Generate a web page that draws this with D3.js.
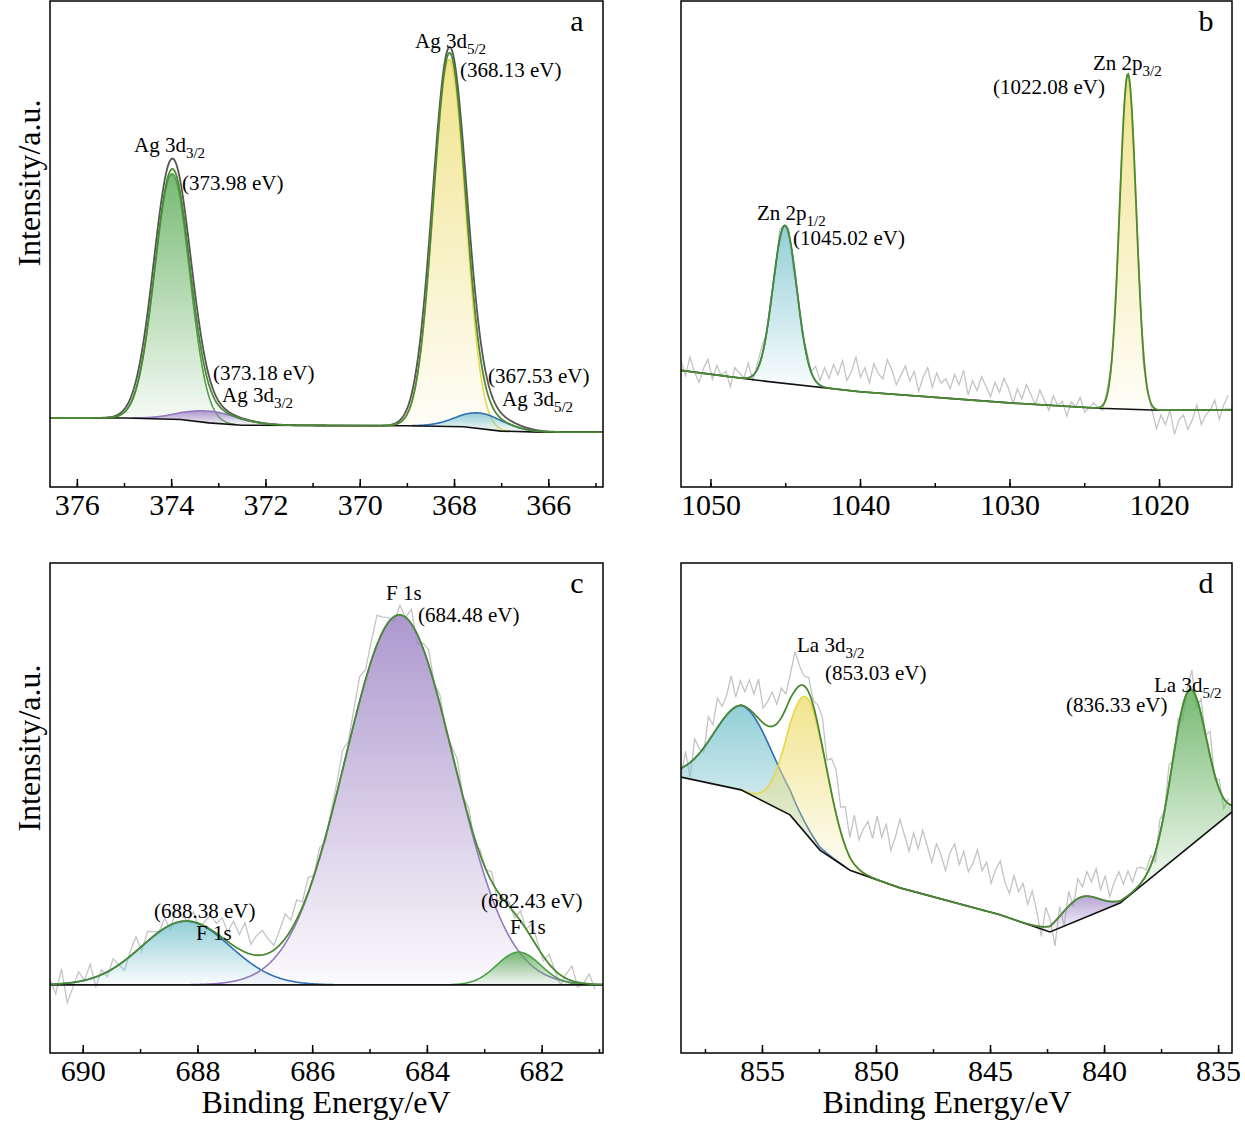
<!DOCTYPE html>
<html><head><meta charset="utf-8">
<script src="https://cdn.jsdelivr.net/npm/d3@7"></script>
<style>body{margin:0;background:#fff}text{font-family:"Liberation Serif","Times New Roman",serif}</style>
</head><body>
<svg id="chart" width="1245" height="1123"></svg>
<script>
// ---- data (intensity in arbitrary units, 0..100 per panel) ----
// panel a: Ag 3d
const aDomain = [376.57, 364.84];
const aTicks = [376, 374, 372, 370, 368, 366];
const aBaseE = [376.57, 375, 373.8, 373.2, 372.5, 369, 367.8, 367, 366.2, 364.84];
const aBaseV = [14.2, 14.2, 13.9, 13.2, 12.7, 12.6, 12.4, 11.5, 11.3, 11.3];
const aPeakE = [373.98, 373.18, 368.1, 367.45];
const aPeakH = [50.5, 2.4, 75.5, 3.2];
const aPeakW = [0.37, 0.6, 0.34, 0.5];
const aPeakC = ["green", "purple", "yellow", "blue"];
// raw spectrum in panel a (dark grey), its own peak heights and widths
const aRawH = [52.5, 2.6, 76, 4.2];
const aRawW = [0.39, 0.62, 0.36, 0.55];

// panel b: Zn 2p
const bDomain = [1051.97, 1015.12];
const bTicks = [1050, 1040, 1030, 1020];
const bBaseE = [1051.97, 1047, 1040, 1030, 1024, 1020, 1015.12];
const bBaseV = [24, 22, 19.6, 17.3, 16.2, 15.8, 15.9];
const bPeakE = [1045.02, 1022.08];
const bPeakH = [32.5, 69];
const bPeakW = [0.8, 0.55];
const bPeakC = ["blue", "yellow"];
const bRaw = [2,-1,3,0,-2,1,3,-1,2,0,1,-2,2,1,0,3,-1,1,2,0,
  1,-1,2,0,1,-2,0,-1,1,0,
  3,1,4,2,5,3,6,2,4,7,3,5,2,6,4,3,7,5,2,4,6,3,5,1,4,6,2,5,3,4,
  2,5,3,6,1,4,2,5,3,1,4,2,5,3,0,3,1,4,2,0,
  3,1,-1,2,0,1,-2,1,0,2,-1,0,1,0,-1,1,0,-2,1,-1,
  0,-2,1,-3,0,-1,-4,-1,-3,0,-5,-2,-1,-4,-2,1,-3,-1,0,2,-2,1,3];
const bRawStep = 0.3;

// panel c: F 1s
const cDomain = [690.57, 680.93];
const cTicks = [690, 688, 686, 684, 682];
const cBaseE = [690.57, 680.93];
const cBaseV = [13.9, 13.9];
const cPeakE = [688.2, 684.48, 682.4];
const cPeakH = [13, 75.5, 6.7];
const cPeakW = [0.77, 0.95, 0.38];
const cPeakC = ["blue", "purple", "green"];
const cRaw = [1,-2,3,-4,-1,2,0,3,-2,1,-1,2,0,-2,1,3,-1,2,1,0,
  2,-1,3,1,0,2,-1,1,3,2,
  4,2,5,3,6,2,4,5,3,1,
  3,5,2,4,1,3,0,2,-1,1,
  2,4,1,3,5,2,4,6,3,1,
  -1,2,0,3,-2,1,3,0,2,-1,
  1,3,0,2,-1,1,0,2,-2,0,
  1,-1,2,0,3,1,-1,2,0,-2,1,3,-1,0,2,-1];
const cRawStep = 0.1;

// panel d: La 3d
const dDomain = [858.55, 834.39];
const dTicks = [855, 850, 845, 840, 835];
const dBaseE = [858.55, 855.92, 853.77, 852.46, 851.14, 848.95, 844.56, 842.37, 839.3, 834.39];
const dBaseV = [56.3, 53.7, 48.6, 41.4, 37.3, 33.7, 28.2, 24.7, 30.6, 49.2];
const dPeakE = [855.8, 853.0, 841.05, 836.27];
const dPeakH = [17.3, 28, 4.5, 32];
const dPeakW = [1.3, 0.85, 0.8, 0.75];
const dPeakC = ["blue", "yellow", "purple", "green"];
const dRaw = [-2,3,-3,4,1,-1,5,2,6,3,4,7,2,
  5,3,6,4,8,3,5,7,4,6,3,5,8,4,2,
  3,1,4,6,2,7,9,5,8,4,10,6,9,
  11,8,13,9,12,7,10,14,11,8,12,9,13,10,7,11,9,6,10,12,8,11,7,9,12,8,10,6,9,11,7,5,9,6,8,4,7,
  3,-2,4,1,-5,2,-3,3,-1,4,
  2,5,3,6,2,5,1,4,6,3,5,2,4,3,1,
  2,-2,3,0,4,-1,2,-3,1,4,-2,3,0,5,-1,2,-2,1];
const dRawStep = 0.2;

const palette = {
  green:  {fill: "#5fae5a", line: "#4f9e4a"},
  yellow: {fill: "#efdf7a", line: "#e8d64a"},
  purple: {fill: "#9f86c6", line: "#9478c0"},
  blue:   {fill: "#7fc6d0", line: "#2e6fb5"}
};

const svg = d3.select("#chart");
const defs = svg.append("defs");
Object.entries(palette).forEach(([k, c]) => {
  const g = defs.append("linearGradient").attr("id", "g-" + k)
    .attr("x1", 0).attr("y1", 0).attr("x2", 0).attr("y2", 1);
  g.append("stop").attr("offset", "0%").attr("stop-color", c.fill).attr("stop-opacity", 0.85);
  g.append("stop").attr("offset", "100%").attr("stop-color", c.fill).attr("stop-opacity", 0.04);
});

function panel(o) {
  const x = d3.scaleLinear().domain(o.domain).range([o.left, o.right]);
  const y = d3.scaleLinear().domain([0, 100]).range([o.bottom, o.top]);
  const base = d3.scaleLinear().domain(o.baseE).range(o.baseV);
  const gauss = (e, i, H = o.peakH, W = o.peakW) => H[i] * Math.exp(-0.5 * ((e - o.peakE[i]) / W[i]) ** 2);
  const n = 600;
  const es = d3.range(n + 1).map(k => o.domain[0] + (o.domain[1] - o.domain[0]) * k / n);
  const g = svg.append("g");
  const clipId = "clip-" + o.name;
  defs.append("clipPath").attr("id", clipId).append("rect")
    .attr("x", o.left).attr("y", o.top).attr("width", o.right - o.left).attr("height", o.bottom - o.top);
  const plot = g.append("g").attr("clip-path", `url(#${clipId})`);
  const env = e => base(e) + d3.sum(o.peakE, (_, i) => gauss(e, i));

  // raw data
  if (o.rawH) {
    const rawEnv = e => base(e) + d3.sum(o.peakE, (_, i) => gauss(e, i, o.rawH, o.rawW));
    plot.append("path").datum(es).attr("fill", "none").attr("stroke", "#555").attr("stroke-width", 1.8)
      .attr("d", d3.line().x(e => x(e)).y(e => y(rawEnv(e))));
  } else {
    const rawPts = o.raw.map((r, k) => [o.domain[0] - k * o.rawStep, r]);
    plot.append("path").datum(rawPts).attr("fill", "none")
      .attr("stroke", "#c4c4c4").attr("stroke-width", 1.3)
      .attr("d", d3.line().x(d => x(d[0])).y(d => y(env(d[0]) + d[1])));
  }

  // components
  o.peakE.forEach((_, i) => {
    const c = palette[o.peakC[i]];
    const pts = es.filter(e => gauss(e, i) > 0.05);
    plot.append("path").datum(pts)
      .attr("fill", `url(#g-${o.peakC[i]})`)
      .attr("d", d3.area().x(e => x(e)).y0(e => y(base(e))).y1(e => y(base(e) + gauss(e, i)))(pts));
    plot.append("path").datum(pts).attr("fill", "none").attr("stroke", c.line).attr("stroke-width", 1.6)
      .attr("d", d3.line().x(e => x(e)).y(e => y(base(e) + gauss(e, i))));
  });
  // baseline
  plot.append("path").datum(o.baseE).attr("fill", "none").attr("stroke", "#111").attr("stroke-width", 1.6)
    .attr("d", d3.line().x(e => x(e)).y((e, k) => y(o.baseV[k])));
  // envelope
  plot.append("path").datum(es).attr("fill", "none").attr("stroke", "#4a8a33").attr("stroke-width", 1.8)
    .attr("d", d3.line().x(e => x(e)).y(e => y(env(e))));

  // frame
  g.append("rect").attr("x", o.left).attr("y", o.top).attr("width", o.right - o.left).attr("height", o.bottom - o.top)
    .attr("fill", "none").attr("stroke", "#000").attr("stroke-width", 1.5);
  // x axis
  const step = o.ticks[0] - o.ticks[1];
  const minor = d3.range(Math.ceil(o.domain[1] / (step / 2)) * step / 2, o.domain[0], step / 2);
  const ax = g.append("g").attr("transform", `translate(0,${o.bottom})`);
  ax.call(d3.axisBottom(x).tickValues(minor).tickSize(4).tickFormat(""));
  ax.append("g").call(d3.axisBottom(x).tickValues(o.ticks).tickSize(8).tickFormat(d3.format("d")));
  ax.selectAll(".domain").remove();
  ax.selectAll("line").attr("stroke", "#000").attr("stroke-width", 1.5).attr("transform", "scale(1,-1)");
  ax.selectAll("text").attr("font-size", 30).attr("fill", "#000").attr("y", 6).attr("dy", "0.72em")
    .attr("font-family", "Liberation Serif, serif");
  // panel letter
  g.append("text").attr("x", o.right - 26).attr("y", o.top + 30).attr("font-size", 30).attr("text-anchor", "middle").text(o.name);
  // annotations
  o.notes.forEach(nt => {
    const t = g.append("text").attr("x", nt[0]).attr("y", nt[1]).attr("font-size", 21);
    t.append("tspan").text(nt[2]);
    if (nt[3]) t.append("tspan").attr("font-size", 15).attr("dy", 6).text(nt[3]);
  });
}

panel({name: "a", left: 50, right: 603, top: 1, bottom: 487, domain: aDomain, ticks: aTicks,
  baseE: aBaseE, baseV: aBaseV, peakE: aPeakE, peakH: aPeakH, peakW: aPeakW, peakC: aPeakC,
  rawH: aRawH, rawW: aRawW,
  notes: [[134, 152, "Ag 3d", "3/2"], [182, 190, "(373.98 eV)"], [213, 380, "(373.18 eV)"], [222, 402, "Ag 3d", "3/2"],
          [415, 48, "Ag 3d", "5/2"], [460, 77, "(368.13 eV)"], [488, 383, "(367.53 eV)"], [502, 406, "Ag 3d", "5/2"]]});
panel({name: "b", left: 681, right: 1232, top: 1, bottom: 487, domain: bDomain, ticks: bTicks,
  baseE: bBaseE, baseV: bBaseV, peakE: bPeakE, peakH: bPeakH, peakW: bPeakW, peakC: bPeakC,
  raw: bRaw, rawStep: bRawStep,
  notes: [[1093, 70, "Zn 2p", "3/2"], [993, 94, "(1022.08 eV)"], [757, 220, "Zn 2p", "1/2"], [793, 245, "(1045.02 eV)"]]});
panel({name: "c", left: 50, right: 603, top: 563, bottom: 1053, domain: cDomain, ticks: cTicks,
  baseE: cBaseE, baseV: cBaseV, peakE: cPeakE, peakH: cPeakH, peakW: cPeakW, peakC: cPeakC,
  raw: cRaw, rawStep: cRawStep,
  notes: [[386, 600, "F 1s"], [418, 622, "(684.48 eV)"], [154, 918, "(688.38 eV)"], [196, 940, "F 1s"],
          [481, 908, "(682.43 eV)"], [510, 934, "F 1s"]]});
panel({name: "d", left: 681, right: 1232, top: 563, bottom: 1053, domain: dDomain, ticks: dTicks,
  baseE: dBaseE, baseV: dBaseV, peakE: dPeakE, peakH: dPeakH, peakW: dPeakW, peakC: dPeakC,
  raw: dRaw, rawStep: dRawStep,
  notes: [[797, 652, "La 3d", "3/2"], [825, 680, "(853.03 eV)"], [1154, 692, "La 3d", "5/2"], [1066, 712, "(836.33 eV)"]]});

// axis titles
svg.append("text").attr("transform", "translate(40,183) rotate(-90)").attr("text-anchor", "middle").attr("font-size", 32).text("Intensity/a.u.");
svg.append("text").attr("transform", "translate(40,748) rotate(-90)").attr("text-anchor", "middle").attr("font-size", 32).text("Intensity/a.u.");
svg.append("text").attr("x", 326).attr("y", 1113).attr("text-anchor", "middle").attr("font-size", 32).text("Binding Energy/eV");
svg.append("text").attr("x", 947).attr("y", 1113).attr("text-anchor", "middle").attr("font-size", 32).text("Binding Energy/eV");
</script>
</body></html>
